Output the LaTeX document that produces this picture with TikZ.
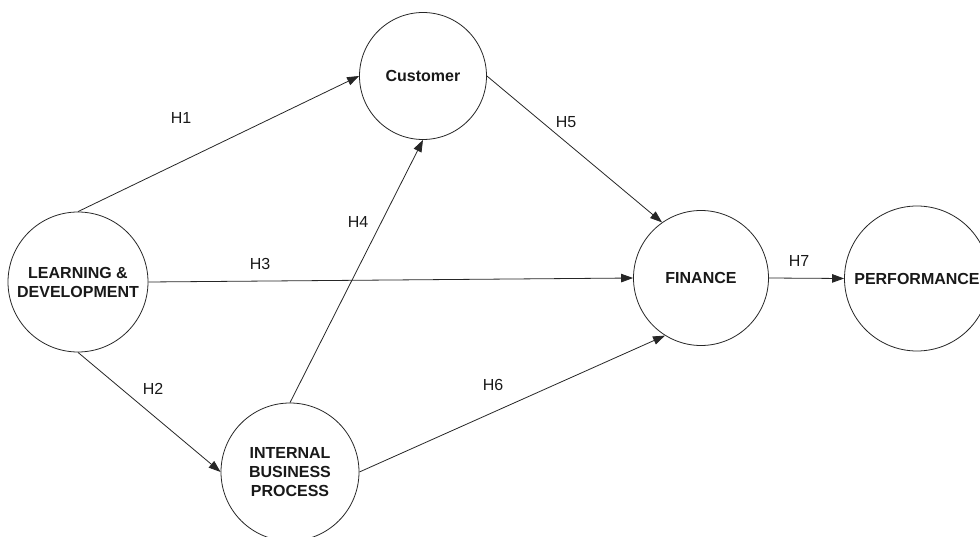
\documentclass[tikz,border=0pt]{standalone}
\usepackage{fontspec}
\setmainfont{Liberation Sans}
\usetikzlibrary{arrows.meta}
\tikzset{
  construct/.style={circle, draw=black!85, line width=0.8pt, fill=white,
    inner sep=0pt, align=center, text=black!90,
    font=\fontsize{16}{19}\selectfont\bfseries},
  path/.style={draw=black!85, line width=0.8pt,
    -{Triangle[length=12pt,width=8.5pt]}},
  hyp/.style={font=\fontsize{16}{19}\selectfont, text=black!90, inner sep=0pt}
}
\begin{document}
\begin{tikzpicture}[x=1pt, y=-1pt]
  \useasboundingbox (0,0) rectangle (980,537);
  \clip (0,0) rectangle (980,537);

  % constructs of the model
  \node[construct, minimum size=140pt] (ld)   at (78,282)  {LEARNING \&\\DEVELOPMENT};
  \node[construct, minimum size=127pt] (cust) at (423,76)  {Customer};
  \node[construct, minimum size=138pt] (ibp)  at (290,472) {INTERNAL\\BUSINESS\\PROCESS};
  \node[construct, minimum size=135pt] (fin)  at (701,278) {FINANCE};
  \node[construct, minimum size=145pt] (perf) at (917,278.5) {PERFORMANCE};

  % hypothesised paths
  \draw[path] (ld.north) -- (cust.west);
  \draw[path] (ld.south) -- (ibp.west);
  \draw[path] (ld.east)  -- (fin.west);
  \draw[path] (ibp.north) -- (cust.south);
  \draw[path] (cust.east) -- (fin.125);
  \draw[path] (ibp.east)  -- (fin.-122);
  \draw[path] (fin.east)  -- (perf.west);

  % hypothesis labels
  \node[hyp] (h1) at (181,118) {H1};
  \node[hyp] (h2) at (153,389) {H2};
  \node[hyp] (h3) at (260,264) {H3};
  \node[hyp] (h4) at (358,222) {H4};
  \node[hyp] (h5) at (566,122) {H5};
  \node[hyp] (h6) at (493,385) {H6};
  \node[hyp] (h7) at (799,261) {H7};
\end{tikzpicture}
\end{document}
